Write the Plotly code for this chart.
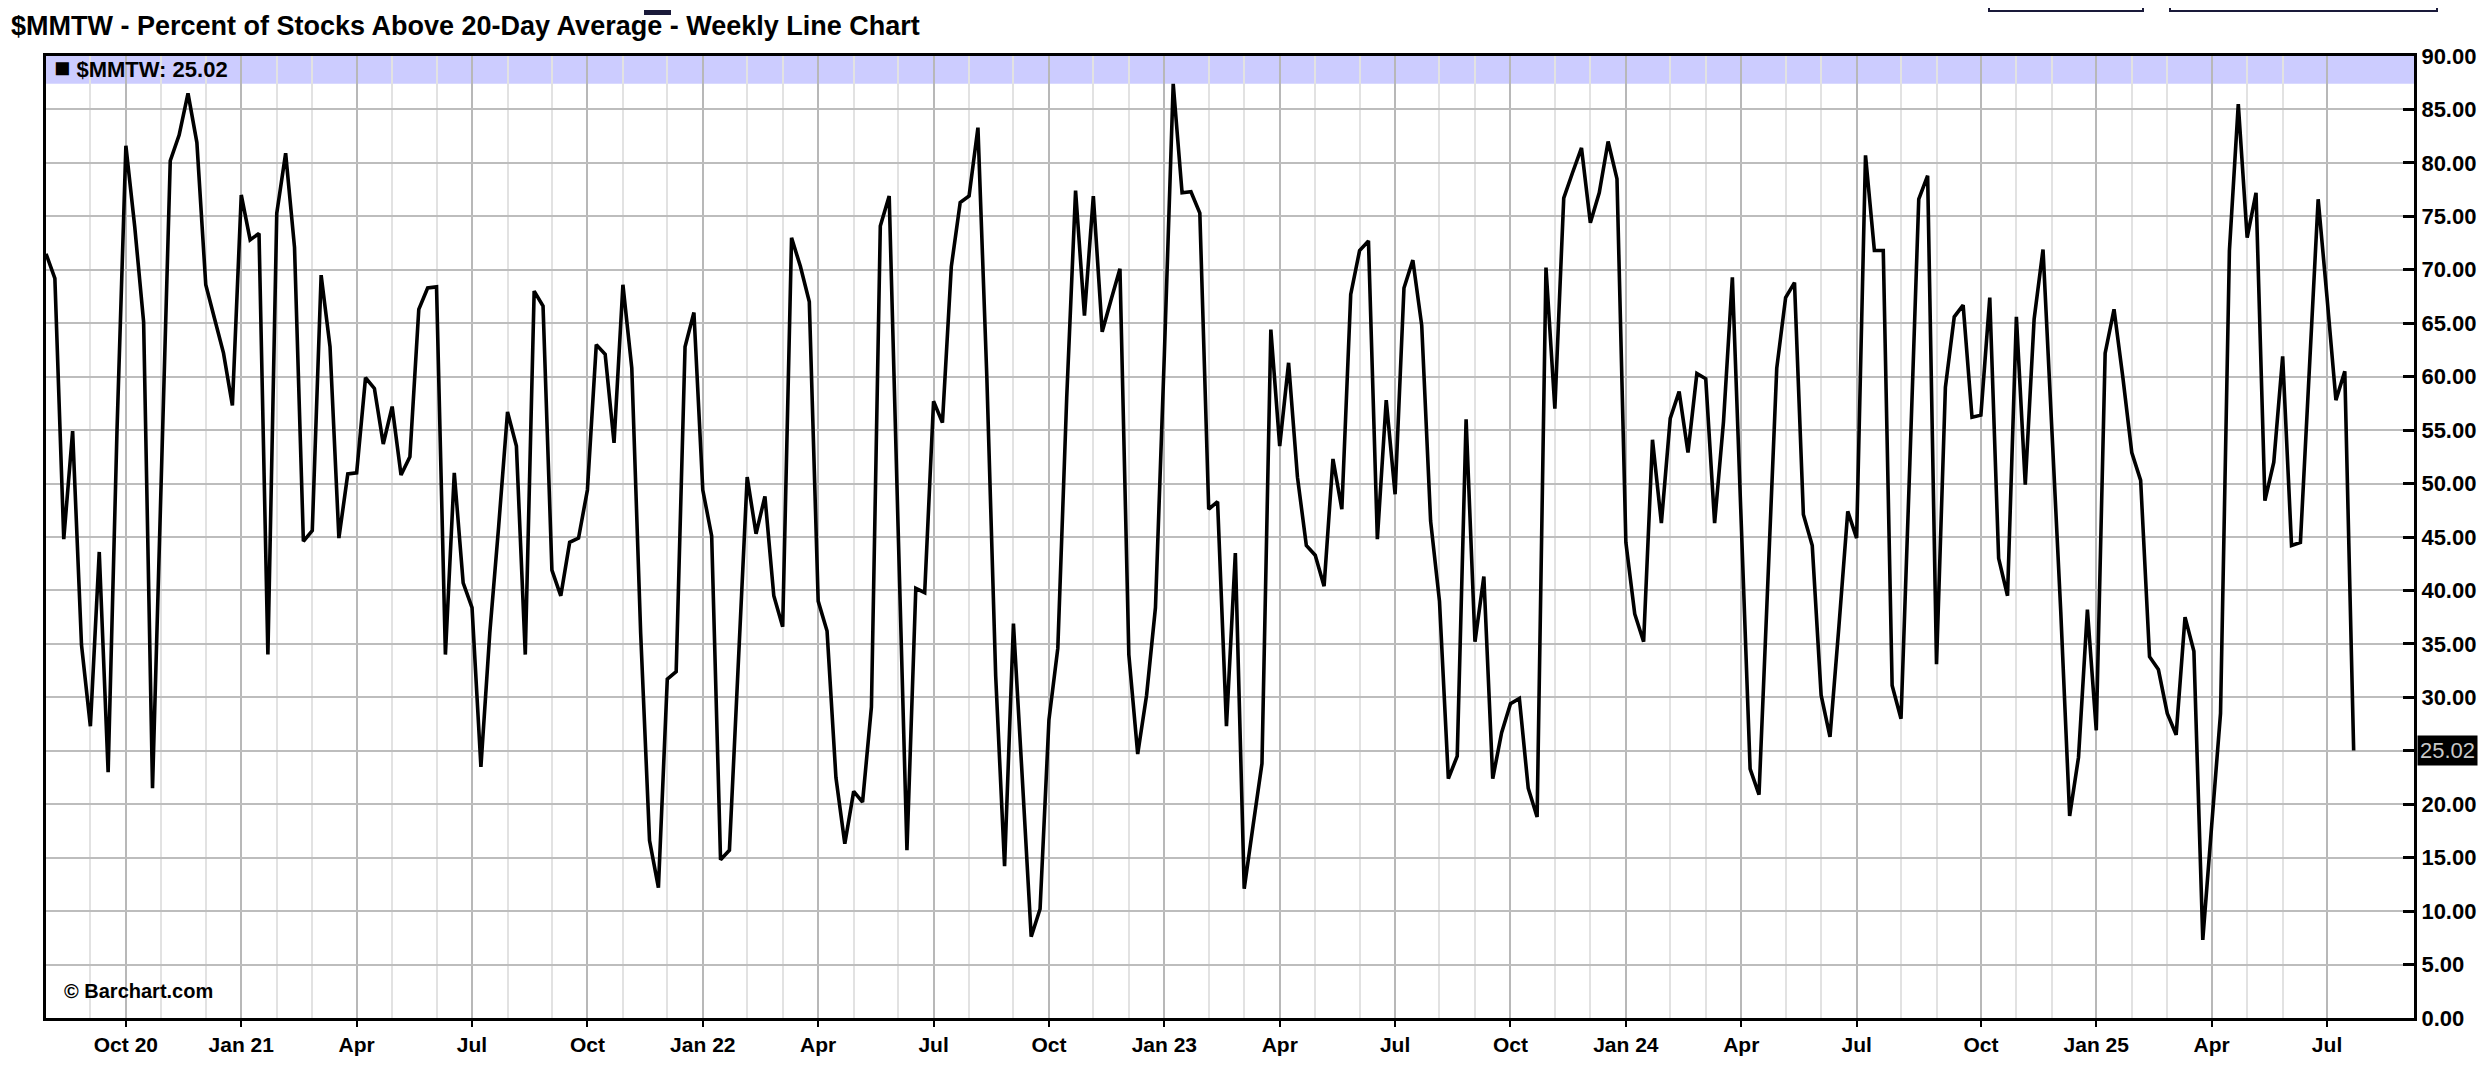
import pandas as pd
import plotly.graph_objects as go

# ---------------- data ----------------
values = [
    71.5, 69.2, 44.8, 54.9, 34.9, 27.3, 43.6, 23.0, 55.0, 81.6,
    74.0, 65.1, 21.5, 52.0, 80.2, 82.6, 86.5, 81.9, 68.6, 65.4,
    62.2, 57.3, 77.0, 72.8, 73.4, 34.0, 75.3, 80.9, 72.1, 44.6,
    45.6, 69.5, 62.8, 44.9, 50.9, 51.0, 59.9, 58.9, 53.7, 57.2,
    50.8, 52.5, 66.3, 68.3, 68.4, 34.0, 51.0, 40.7, 38.4, 23.5,
    36.0, 46.0, 56.7, 53.5, 34.0, 68.0, 66.6, 41.9, 39.5, 44.5,
    44.9, 49.4, 63.0, 62.1, 53.8, 68.6, 60.8, 36.0, 16.6, 12.2,
    31.7, 32.4, 62.8, 66.0, 49.4, 45.1, 14.8, 15.7, 33.0, 50.6,
    45.3, 48.8, 39.5, 36.6, 73.0, 70.3, 67.0, 39.0, 36.2, 22.5,
    16.3, 21.2, 20.2, 29.1, 74.1, 76.9, 46.0, 15.7, 40.2, 39.8,
    57.7, 55.7, 70.3, 76.3, 76.9, 83.3, 60.0, 32.0, 14.2, 36.9,
    22.4, 7.6, 10.2, 27.9, 34.6, 58.0, 77.4, 65.7, 76.9, 64.2,
    67.2, 70.1, 34.0, 24.7, 30.2, 38.4, 62.0, 87.4, 77.2, 77.3,
    75.3, 47.6, 48.3, 27.3, 43.5, 12.1, 18.0, 23.8, 64.4, 53.5,
    61.3, 50.6, 44.2, 43.3, 40.4, 52.3, 47.6, 67.7, 71.8, 72.7,
    44.8, 57.8, 49.0, 68.3, 70.9, 64.8, 46.5, 39.0, 22.4, 24.5,
    56.0, 35.2, 41.3, 22.4, 26.7, 29.4, 29.9, 21.5, 18.8, 70.2,
    57.0, 76.7, 79.1, 81.4, 74.4, 77.2, 82.0, 78.5, 44.5, 37.8,
    35.2, 54.1, 46.3, 56.1, 58.6, 52.9, 60.3, 59.8, 46.3, 55.8,
    69.3, 46.0, 23.3, 20.9, 41.0, 60.8, 67.4, 68.8, 47.1, 44.2,
    30.2, 26.3, 36.6, 47.4, 44.9, 80.7, 71.8, 71.8, 31.1, 28.0,
    52.0, 76.6, 78.8, 33.1, 59.0, 65.6, 66.7, 56.2, 56.4, 67.4,
    43.0, 39.5, 65.6, 49.9, 65.4, 71.9, 55.0, 38.0, 18.9, 24.4,
    38.2, 26.9, 62.2, 66.3, 59.9, 52.9, 50.3, 33.8, 32.6, 28.5,
    26.5, 37.5, 34.3, 7.3, 18.0, 28.5, 71.8, 85.5, 73.0, 77.2,
    48.4, 52.0, 61.9, 44.2, 44.5, 60.5, 76.6, 67.4, 57.8, 60.5,
    25.02,
]
dates = pd.date_range("2020-07-31", periods=len(values), freq="7D")

tick_dates = [
    "2020-10-02", "2021-01-01", "2021-04-02", "2021-07-02", "2021-10-01",
    "2021-12-31", "2022-04-01", "2022-07-01", "2022-09-30", "2022-12-30",
    "2023-03-31", "2023-06-30", "2023-09-29", "2023-12-29", "2024-03-29",
    "2024-06-28", "2024-10-04", "2025-01-03", "2025-04-04", "2025-07-04",
]
tick_text = [
    "Oct 20", "Jan 21", "Apr", "Jul", "Oct", "Jan 22", "Apr", "Jul", "Oct",
    "Jan 23", "Apr", "Jul", "Oct", "Jan 24", "Apr", "Jul", "Oct", "Jan 25",
    "Apr", "Jul",
]
month_dates = [
    "2020-09-04", "2020-10-30", "2020-12-04", "2021-01-29", "2021-02-26",
    "2021-04-30", "2021-06-04", "2021-07-30", "2021-09-03", "2021-10-29",
    "2021-12-03", "2022-02-04", "2022-03-04", "2022-04-29", "2022-06-03",
    "2022-07-29", "2022-09-02", "2022-11-04", "2022-12-02", "2023-02-03",
    "2023-03-03", "2023-04-28", "2023-06-02", "2023-08-04", "2023-09-01",
    "2023-11-03", "2023-12-01", "2024-02-02", "2024-03-01", "2024-05-03",
    "2024-05-31", "2024-08-02", "2024-08-30", "2024-11-01", "2024-11-29",
    "2025-01-31", "2025-02-28", "2025-05-02", "2025-05-30",
]
y_ticks = [0, 5, 10, 15, 20, 25, 30, 35, 40, 45, 50, 55, 60, 65, 70, 75, 80, 85, 90]
symbol = "$MMTW"
last_value = values[-1]

# ---------------- figure ----------------
W, H = 2489, 1066
L, R, T, B = 38, 83, 48, 56
FONT = "Liberation Sans, Arial, Helvetica, sans-serif"

fig = go.Figure()
fig.add_trace(go.Scatter(
    x=dates, y=values, mode="lines",
    line=dict(color="black", width=3.6),
    hoverinfo="x+y", showlegend=False,
))

pw = W - L - R
ph = H - T - B


def px_x(p):
    return (p - L) / pw


def px_y(p):
    return (H - B - p) / ph


fig.update_layout(
    width=W, height=H,
    margin=dict(l=L, r=R, t=T, b=B, pad=0),
    paper_bgcolor="white", plot_bgcolor="white",
    font=dict(family=FONT, color="black"),
    xaxis=dict(
        type="date",
        range=["2020-07-31", "2025-09-10 14:00"],
        tickmode="array", tickvals=tick_dates, ticktext=tick_text,
        tickfont=dict(size=21, family=FONT, weight="bold", color="black"),
        showgrid=True, gridcolor="#b8b8b8", gridwidth=2,
        minor=dict(tickmode="array", tickvals=month_dates, showgrid=True,
                   gridcolor="#e2e2e2", gridwidth=2, ticks=""),
        showline=True, linecolor="black", linewidth=3, mirror=True,
        ticks="outside", ticklen=6, tickwidth=2, tickcolor="black",
        zeroline=False, fixedrange=True,
    ),
    yaxis=dict(
        side="right", range=[0, 90],
        tickmode="array", tickvals=y_ticks,
        ticktext=[f"{v:.2f}" for v in y_ticks],
        tickfont=dict(size=22, family=FONT, weight="bold", color="black"),
        showgrid=True, gridcolor="#bdbdbd", gridwidth=2,
        showline=True, linecolor="black", linewidth=3, mirror=True,
        ticks="inside", ticklen=11, tickwidth=3, tickcolor="black",
        zeroline=False, fixedrange=True,
    ),
)

# blue header band inside the plot
fig.add_shape(type="rect", xref="paper", yref="y", x0=0, x1=1, y0=87.4, y1=90,
              fillcolor="#ccccff", line=dict(width=0), layer="below")

# page chrome visible at the very top of the screenshot
fig.add_shape(type="rect", xref="paper", yref="paper",
              x0=px_x(636), x1=px_x(663), y0=px_y(7), y1=px_y(2),
              fillcolor="#1a1a3a", line=dict(width=0))
for bx0, bx1 in [(1981, 2135), (2162, 2429)]:
    fig.add_shape(type="rect", xref="paper", yref="paper",
                  x0=px_x(bx0), x1=px_x(bx1), y0=px_y(3), y1=px_y(-20),
                  fillcolor="rgba(0,0,0,0)", line=dict(color="#1a1a3a", width=2))

annotations = [
    dict(text=f"{symbol} - Percent of Stocks Above 20-Day Average - Weekly Line Chart",
         xref="paper", yref="paper", x=px_x(1), y=px_y(18), xanchor="left", yanchor="middle",
         showarrow=False, font=dict(size=27, family=FONT, weight="bold", color="black")),
    dict(text=f"<span style='font-size:27px'>■</span> {symbol}: {last_value:.2f}",
         xref="paper", yref="y", x=px_x(44), y=88.85, xanchor="left", yanchor="middle",
         showarrow=False, font=dict(size=22, family=FONT, weight="bold", color="black")),
    dict(text="© Barchart.com",
         xref="paper", yref="y", x=px_x(54), y=2.55, xanchor="left", yanchor="middle",
         showarrow=False, font=dict(size=20, family=FONT, weight="bold", color="black")),
    dict(text=f"{last_value:.2f}",
         xref="paper", yref="y", x=1, y=last_value, xanchor="left", yanchor="middle",
         xshift=3, showarrow=False, bgcolor="black", borderpad=2,
         font=dict(size=22, family=FONT, color="#c8c8c8")),
]
fig.update_layout(annotations=annotations)

fig.write_html("out.html")
